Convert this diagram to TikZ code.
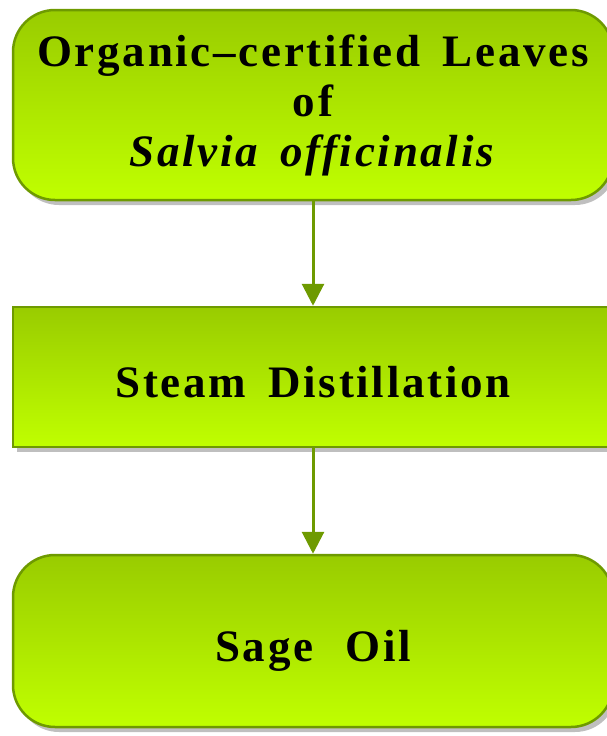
\documentclass[tikz,border=0pt]{standalone}
\usepackage{fontspec}
\setmainfont{Liberation Serif}[LetterSpace=6,WordSpace=1.6]
\usetikzlibrary{arrows.meta,shadows}
\definecolor{leafedge}{RGB}{110,154,0}
\definecolor{leaftop}{RGB}{153,204,0}
\definecolor{leafbottom}{RGB}{192,255,0}
\tikzset{
  stagebox/.style={draw=leafedge, line width=2.5pt, top color=leaftop, bottom color=leafbottom,
    minimum width=600pt, inner sep=0pt, align=center, font=\fontsize{45}{50}\selectfont\bfseries,
    drop shadow={shadow xshift=4pt, shadow yshift=-5pt, fill=black, opacity=.25}},
  roundbox/.style={stagebox, rounded corners=42pt},
  oneline/.style={text height=40pt, text depth=0pt},
  flowarrow/.style={draw=leafedge, line width=3pt, -{Triangle[width=22pt,length=22pt]}}
}
\begin{document}
\begin{tikzpicture}[x=1pt,y=-1pt]
\useasboundingbox (0,0) rectangle (606,736);

% process steps
\node[roundbox, minimum height=190pt] (leaves) at (313,105) {Organic–certified Leaves\\of\\\textit{Salvia officinalis}};
\node[stagebox, oneline, minimum height=140pt] (steam) at (313,377) {Steam Distillation};
\node[roundbox, oneline, minimum height=172pt] (oil) at (313,641) {Sage\hspace{32pt}Oil};

% arrows between steps
\draw[flowarrow] (leaves) -- (steam);
\draw[flowarrow] (steam) -- (oil);

\end{tikzpicture}
\end{document}
